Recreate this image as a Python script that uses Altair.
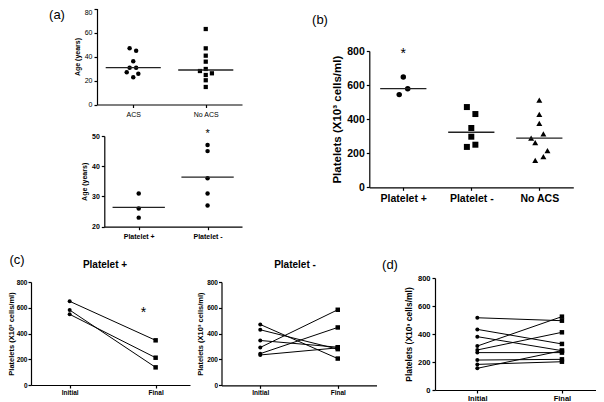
import altair as alt
import pandas as pd

W, H = 588, 394
FONT = "Liberation Sans"


def X(cx):
    return cx - 8


def Y(cy):
    return cy - 8


# ---------------- data ----------------
# (a) top: age by ACS status
a1_cats = ["ACS", "No ACS"]
a1_acs = [46.8, 44.8, 36.0, 30.7, 30.7, 26.8, 25.7, 22.7]
a1_acs_jit = [-0.05, 0.04, 0.0, -0.05, 0.04, -0.09, 0.07, 0.0]
a1_noacs = [62.9, 46.8, 40.7, 35.7, 29.6, 27.9, 26.0, 24.6, 20.2, 14.6]
a1_noacs_jit = [0, 0, 0, 0, 0, -0.08, 0.085, 0, 0, 0]
a1_means = [30.7, 28.75]

# (a) bottom: age by platelet response
a2_cats = ["Platelet +", "Platelet -"]
a2_pos = [31.0, 26.0, 23.0]
a2_neg = [47.0, 45.0, 36.0, 31.0, 27.0]
a2_means = [26.4, 36.4]

# (b) platelets by group
b_cats = ["Platelet +", "Platelet -", "No ACS"]
b_pos = [647, 579, 544]
b_pos_jit = [0.0, 0.065, -0.06]
b_neg = [471, 430, 348, 297, 237, 250]
b_neg_jit = [-0.065, 0.06, 0.0, 0.0, -0.065, 0.06]
b_noacs = [512, 428, 375, 313, 289, 262, 215, 180, 158]
b_noacs_jit = [0.0, 0.0, 0.0, 0.06, -0.12, -0.06, 0.12, 0.06, -0.06]
b_means = [579, 323, 289]

# (c) paired initial / final
time_cats = ["Initial", "Final"]
c1_initial = [650, 582, 549]
c1_final = [347, 137, 212]
c2_initial = [471, 430, 347, 293, 245, 235]
c2_final = [207, 280, 295, 585, 448, 290]

# (d) paired initial / final
d_initial = [516, 433, 381, 314, 286, 267, 214, 183, 155]
d_final = [495, 329, 281, 524, 412, 267, 219, 202, 281]

PLT_TITLE = "Platelets (X10³ cells/ml)"


def labexpr(cats):
    return "[" + ",".join("'" + c + "'" for c in cats) + "][datum.value]"


def make_axes(cats, xr, yr, yticks, ytitle, lsize, lweight, tsize, tweight,
              lpad=2, tpad=4, xlpad=3, top_label_down=False):
    xaxis = alt.Axis(orient="bottom", offset=Y(yr[0]) - H, values=list(range(len(cats))),
                     labelExpr=labexpr(cats), title=None, grid=False, labelFlush=False,
                     labelOverlap=False, labelBound=False, domainColor="black", tickColor="black",
                     labelColor="black", labelFont=FONT, labelFontSize=lsize, labelFontWeight=lweight,
                     tickSize=3, labelPadding=xlpad, domainWidth=1.2, tickWidth=1.2)
    extra = {}
    if top_label_down:
        extra["labelBaseline"] = alt.condition(f"datum.value == {yticks[-1]}", alt.value("top"),
                                               alt.value("middle"))
    yaxis = alt.Axis(orient="left", offset=-X(xr[0]), values=yticks, title=ytitle, grid=False,
                     labelFlush=False, labelOverlap=False, domainColor="black", tickColor="black",
                     labelColor="black", labelFont=FONT, labelFontSize=lsize, labelFontWeight=lweight,
                     titleFont=FONT, titleFontSize=tsize, titleFontWeight=tweight, titleColor="black",
                     tickSize=3, labelPadding=lpad, titlePadding=tpad, domainWidth=1.2, tickWidth=1.2,
                     **extra)
    return xaxis, yaxis


def scales(xdom, xr, ydom, yr):
    xs = alt.Scale(domain=xdom, range=[X(xr[0]), X(xr[1])], zero=False, nice=False)
    ys = alt.Scale(domain=ydom, range=[Y(yr[0]), Y(yr[1])], zero=False, nice=False)
    return xs, ys


def dot_panel(cats, groups, means, hw, xr, yr, ydom, yticks, ytitle, lsize, lweight, tsize, tweight,
              top_label_down=False):
    xs, ys = scales([-0.5, len(cats) - 0.5], xr, ydom, yr)
    xaxis, yaxis = make_axes(cats, xr, yr, yticks, ytitle, lsize, lweight, tsize, tweight,
                             top_label_down=top_label_down)
    layers = []
    first = True
    for i, (vals, jit, shape, size) in enumerate(groups):
        df = pd.DataFrame({"x": [i + j for j in jit], "v": vals})
        layers.append(
            alt.Chart(df).mark_point(filled=True, shape=shape, size=size, color="black", opacity=1)
            .encode(x=alt.X("x:Q", scale=xs, axis=xaxis if first else None),
                    y=alt.Y("v:Q", scale=ys, axis=yaxis if first else None))
        )
        first = False
    mdf = pd.DataFrame({"x": [i - hw for i in range(len(cats))],
                        "x2": [i + hw for i in range(len(cats))], "m": means})
    layers.append(
        alt.Chart(mdf).mark_rule(color="#222222", strokeWidth=1.3)
        .encode(x=alt.X("x:Q", scale=xs, axis=None), x2="x2:Q",
                y=alt.Y("m:Q", scale=ys, axis=None))
    )
    return layers, xs, ys


def pair_panel(init, final, xdom, xr, yr, lsize, tsize, csize, ssize, lpad=2, tpad=4):
    xs, ys = scales(xdom, xr, [0, 800], yr)
    xaxis, yaxis = make_axes(time_cats, xr, yr, [0, 200, 400, 600, 800], PLT_TITLE,
                             lsize, "bold", tsize, "bold", lpad=lpad, tpad=tpad, xlpad=1)
    rows = []
    for k, (a, b) in enumerate(zip(init, final)):
        rows.append({"s": k, "t": 0, "v": a})
        rows.append({"s": k, "t": 1, "v": b})
    df = pd.DataFrame(rows)
    lines = alt.Chart(df).mark_line(color="black", strokeWidth=1).encode(
        x=alt.X("t:Q", scale=xs, axis=xaxis), y=alt.Y("v:Q", scale=ys, axis=yaxis), detail="s:N")
    circ = alt.Chart(df[df.t == 0]).mark_point(filled=True, shape="circle", size=csize,
                                                color="black", opacity=1).encode(
        x=alt.X("t:Q", scale=xs, axis=None), y=alt.Y("v:Q", scale=ys, axis=None))
    sq = alt.Chart(df[df.t == 1]).mark_point(filled=True, shape="square", size=ssize,
                                              color="black", opacity=1).encode(
        x=alt.X("t:Q", scale=xs, axis=None), y=alt.Y("v:Q", scale=ys, axis=None))
    return [lines, circ, sq], xs, ys


def star(xs, ys, xv, yv, size):
    df = pd.DataFrame({"x": [xv], "y": [yv], "t": ["*"]})
    return alt.Chart(df).mark_text(font=FONT, fontSize=size, color="black", baseline="middle").encode(
        x=alt.X("x:Q", scale=xs, axis=None), y=alt.Y("y:Q", scale=ys, axis=None), text="t:N")


def free_text(txt, cx, cy, size, weight="normal"):
    return alt.Chart(pd.DataFrame({"t": [txt]})).mark_text(
        font=FONT, fontSize=size, fontWeight=weight, color="black", baseline="middle", align="center"
    ).encode(x=alt.value(X(cx)), y=alt.value(Y(cy)), text="t:N")


layers = []

# (a) top
l, xs, ys = dot_panel(a1_cats, [(a1_acs, a1_acs_jit, "circle", 20), (a1_noacs, a1_noacs_jit, "square", 18)],
                      a1_means, 0.38, (97, 242), (104.5, 8.5), [0, 80], [0, 20, 40, 60, 80],
                      "Age (years)", 7, "normal", 7, "bold", top_label_down=True)
layers += l

# (a) bottom
l, xs, ys = dot_panel(a2_cats, [(a2_pos, [0, 0, 0], "circle", 20), (a2_neg, [0] * 5, "circle", 20)],
                      a2_means, 0.38, (104.3, 242), (226.7, 136), [20, 50], [20, 30, 40, 50],
                      "Age (years)", 7, "bold", 7, "bold")
layers += l
layers.append(star(xs, ys, 1, 50.5, 11))

# (b)
l, xs, ys = dot_panel(b_cats, [(b_pos, b_pos_jit, "circle", 30), (b_neg, b_neg_jit, "square", 36),
                               (b_noacs, b_noacs_jit, "triangle-up", 36)],
                      b_means, 0.34, (369.3, 573.3), (187.3, 51), [0, 800], [0, 200, 400, 600, 800],
                      PLT_TITLE, 10.5, "bold", 11.5, "bold")
layers += l
layers.append(star(xs, ys, 0, 785, 14))

# (c) left
l, xs, ys = pair_panel(c1_initial, c1_final, [-0.45, 1.4], (31, 190), (385, 282), 6.5, 7.5, 16, 20,
                       lpad=1, tpad=1)
layers += l
layers.append(star(xs, ys, 0.86, 563, 14))

# (c) right
l, xs, ys = pair_panel(c2_initial, c2_final, [-0.5, 1.5], (221.5, 376.5), (385.3, 282), 6.5, 7.5, 16, 20,
                       lpad=1, tpad=2)
layers += l

# (d)
l, xs, ys = pair_panel(d_initial, d_final, [-0.5, 1.45], (435, 600), (390, 278), 7.5, 8.5, 16, 20)
layers += l

# panel letters and titles
layers.append(free_text("(a)", 57, 14.5, 13))
layers.append(free_text("(b)", 320, 20, 13))
layers.append(free_text("(c)", 17, 260, 13))
layers.append(free_text("(d)", 390, 265, 13))
layers.append(free_text("Platelet +", 105, 265, 10, "bold"))
layers.append(free_text("Platelet -", 295, 265, 10, "bold"))

chart = alt.layer(*layers).resolve_scale(x="independent", y="independent").properties(
    width=W, height=H, padding=0, autosize=alt.AutoSizeParams(type="none"), background="white"
).configure_view(stroke=None)

chart.save("out.html", embed_options={"renderer": "svg", "actions": False})
